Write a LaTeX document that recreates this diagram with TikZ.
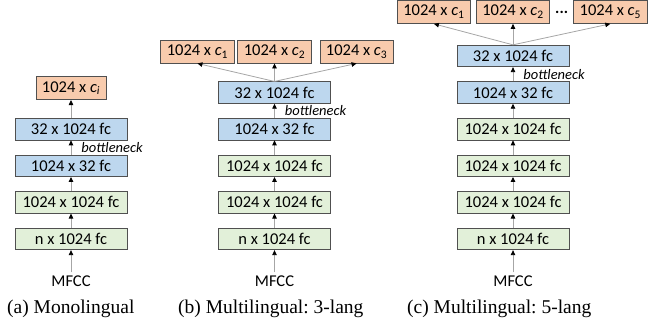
\documentclass[tikz,border=0pt]{standalone}
\usepackage{fontspec}
\setmainfont{Carlito}
\newfontfamily\capfont{Liberation Serif}
\usepackage{tikz}
\usetikzlibrary{positioning,arrows.meta}
\definecolor{outfill}{HTML}{F8CBAD}
\definecolor{neckfill}{HTML}{BDD7EE}
\definecolor{hidfill}{HTML}{E2F0D9}
\definecolor{boxline}{HTML}{505050}
\definecolor{arrline}{HTML}{A6A6A6}
\newcommand{\outc}[1]{1024 x \textit{c}\textsubscript{#1}}
\frenchspacing

\begin{document}
\begin{tikzpicture}[x=1pt,y=1pt,
  fcbox/.style={draw=boxline, line width=0.8pt, minimum width=112pt, minimum height=21.5pt, inner sep=0pt, font=\fontsize{16.5}{18}\selectfont},
  hid/.style={fcbox, fill=hidfill},
  neck/.style={fcbox, fill=neckfill},
  outbox/.style={draw=boxline, line width=0.8pt, fill=outfill, minimum height=23pt, inner xsep=6pt, inner ysep=0pt, font=\fontsize{16.5}{18}\selectfont},
  arr/.style={arrline, line width=0.8pt, -{Triangle[length=5pt,width=4.5pt,black]}},
  feat/.style={font=\fontsize{16.5}{18}\selectfont, inner sep=3pt},
  btl/.style={anchor=west, xshift=10pt, inner sep=0pt, text=black, font=\fontsize{14.5}{16}\selectfont\itshape},
  subcap/.style={anchor=west, inner sep=0pt, font=\capfont\fontsize{19.5}{22}\selectfont},
  node distance=14.3pt]
\useasboundingbox (0,0) rectangle (648,328);

% (a) una sola lingua
\node[hid] (a1) at (71,89) {n x 1024 fc};
\node[hid, above=of a1] (a2) {1024 x 1024 fc};
\node[neck, above=of a2] (a3) {1024 x 32 fc};
\node[neck, above=of a3] (a4) {32 x 1024 fc};
\node[outbox, above=18pt of a4] (ao) {\outc{\textit{i}}};
\node[feat] (am) at (71,47) {MFCC};
\draw[arr] (am) -- (a1);
\draw[arr] (a1) -- (a2);
\draw[arr] (a2) -- (a3);
\draw[arr] (a3) -- node[btl] {bottleneck} (a4);
\draw[arr] (a4) -- (ao);
\node[subcap] (capa) at (7,19) {(a) Monolingual};

% (b) tre lingue
\node[hid] (b1) at (274.5,89) {n x 1024 fc};
\node[hid, above=of b1] (b2) {1024 x 1024 fc};
\node[hid, above=of b2] (b3) {1024 x 1024 fc};
\node[neck, above=of b3] (b4) {1024 x 32 fc};
\node[neck, above=of b4] (b5) {32 x 1024 fc};
\node[outbox, above=18pt of b5] (bo2) {\outc{2}};
\node[outbox, left=3pt of bo2] (bo1) {\outc{1}};
\node[outbox, right=8pt of bo2] (bo3) {\outc{3}};
\node[feat] (bm) at (274.5,47) {MFCC};
\draw[arr] (bm) -- (b1);
\draw[arr] (b1) -- (b2);
\draw[arr] (b2) -- (b3);
\draw[arr] (b3) -- (b4);
\draw[arr] (b4) -- node[btl] {bottleneck} (b5);
\draw[arr] (b5.north) -- (bo1.south);
\draw[arr] (b5.north) -- (bo2.south);
\draw[arr] (b5.north) -- (bo3.south);
\node[subcap] (capb) at (178,19) {(b) Multilingual: 3-lang};

% (c) cinque lingue
\node[hid] (c1) at (513,89) {n x 1024 fc};
\node[hid, above=of c1] (c2) {1024 x 1024 fc};
\node[hid, above=of c2] (c3) {1024 x 1024 fc};
\node[hid, above=of c3] (c4) {1024 x 1024 fc};
\node[neck, above=of c4] (c5) {1024 x 32 fc};
\node[neck, above=of c5] (c6) {32 x 1024 fc};
\node[outbox, above=21pt of c6] (co2) {\outc{2}};
\node[outbox, left=5pt of co2] (co1) {\outc{1}};
\node[right=5pt of co2, inner sep=0pt, font=\fontsize{16}{18}\selectfont\bfseries] (cdots) {...};
\node[outbox, right=5pt of cdots] (co5) {\outc{5}};
\node[feat] (cm) at (513,47) {MFCC};
\draw[arr] (cm) -- (c1);
\draw[arr] (c1) -- (c2);
\draw[arr] (c2) -- (c3);
\draw[arr] (c3) -- (c4);
\draw[arr] (c4) -- (c5);
\draw[arr] (c5) -- node[btl] {bottleneck} (c6);
\draw[arr] (c6.north) -- (co1.south);
\draw[arr] (c6.north) -- (co2.south);
\draw[arr] (c6.north) -- (co5.south);
\node[subcap] (capc) at (407,19) {(c) Multilingual: 5-lang};
\end{tikzpicture}
\end{document}
